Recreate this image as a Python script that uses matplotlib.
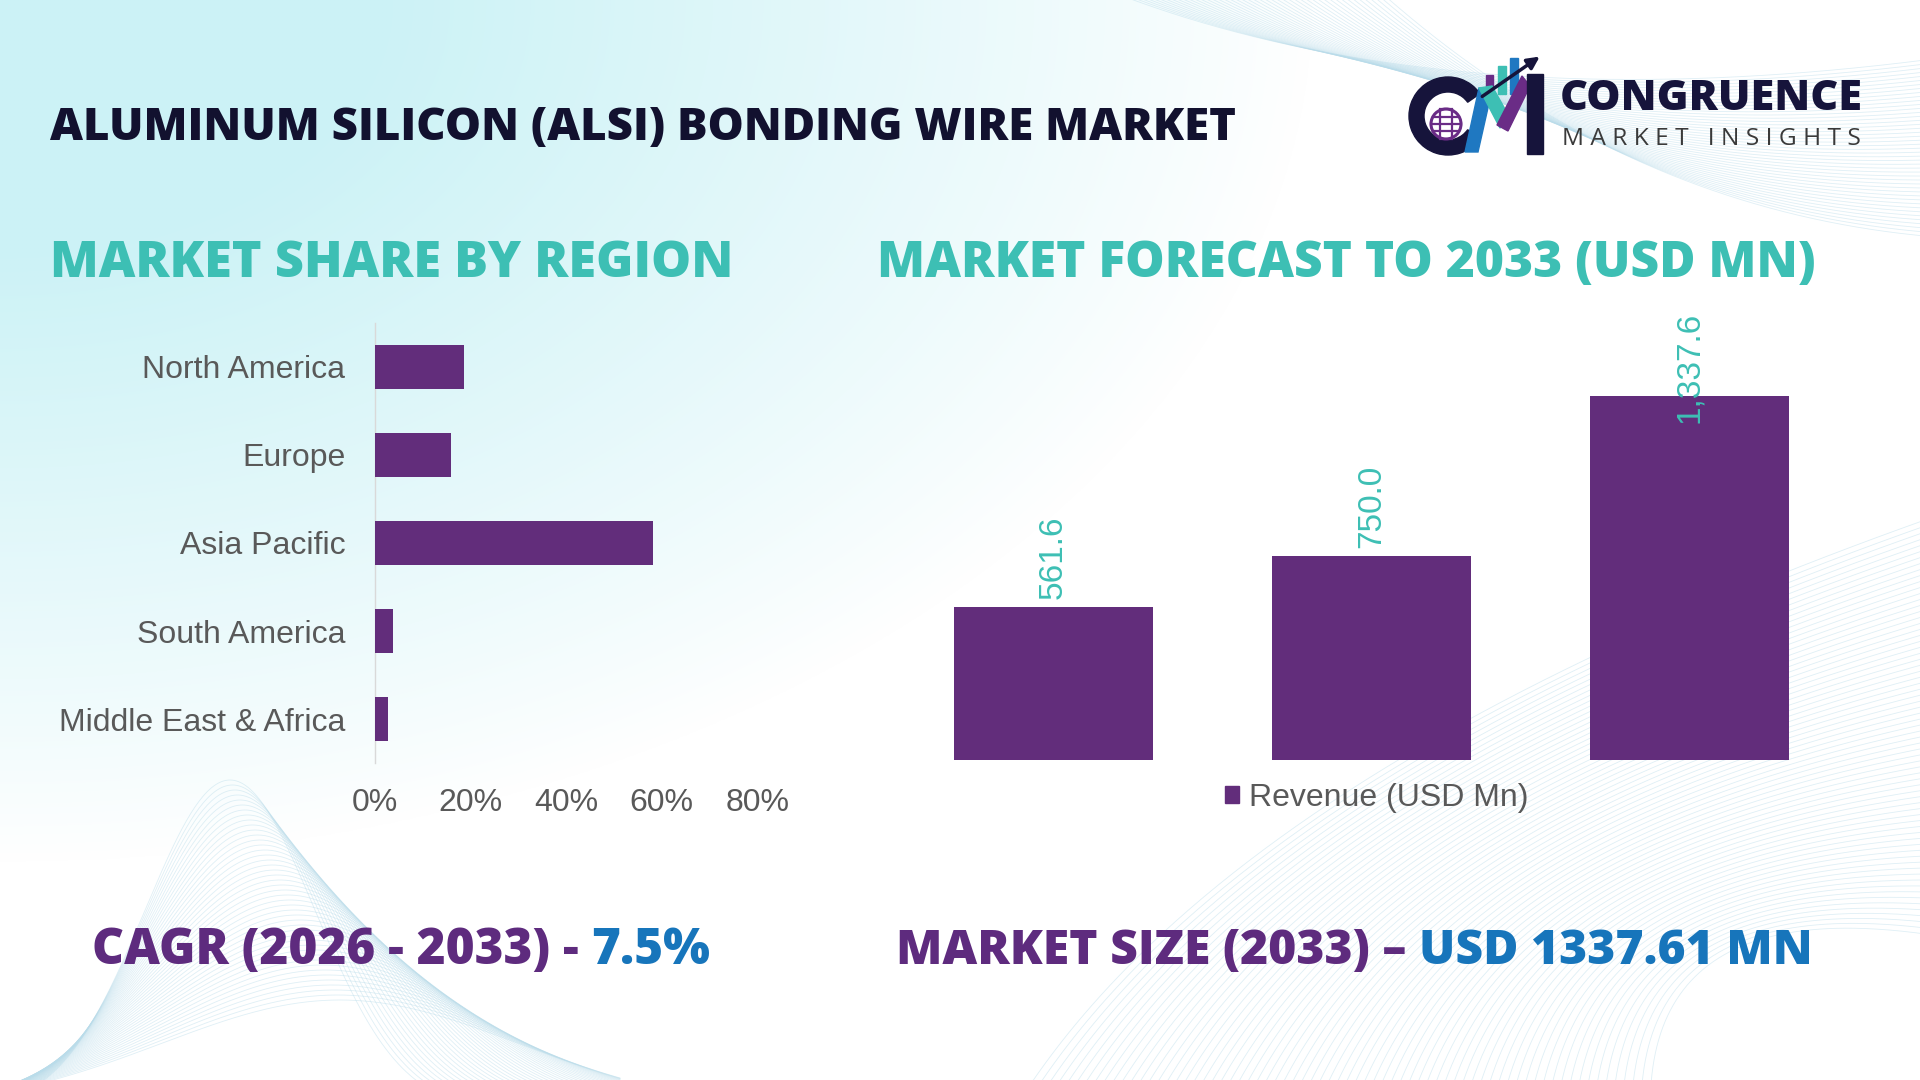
import matplotlib
matplotlib.use("Agg")
import matplotlib.pyplot as plt
import numpy as np
from matplotlib.patches import Circle, Polygon, Rectangle, Wedge, Patch

# ---------------- data ----------------
regions = ["North America", "Europe", "Asia Pacific", "South America", "Middle East & Africa"]
region_share = [18.7, 16.0, 58.1, 3.8, 2.8]
share_ticks = [0, 20, 40, 60, 80]

years = ["2021", "2025", "2033"]
revenue = [561.6, 750.0, 1337.6]
series_name = "Revenue (USD Mn)"

title = "ALUMINUM SILICON (ALSI) BONDING WIRE MARKET"
left_heading = "MARKET SHARE BY REGION"
right_heading = "MARKET FORECAST TO 2033 (USD MN)"
cagr_label, cagr_value = "CAGR (2026 - 2033) - ", "7.5%"
size_label, size_value = "MARKET SIZE (2033) \u2013 ", "USD 1337.61 MN"

# ---------------- style ----------------
PURPLE = "#622D7B"
TEAL = "#3DBFB4"
NAVY = "#12112F"
DPURPLE = "#5E2B7E"
BLUE = "#1775BB"
GREY = "#595959"
HEAD_FONT = ["Open Sans", "DejaVu Sans"]
BODY_FONT = ["Liberation Sans", "DejaVu Sans"]

W, H = 1920, 1080
fig = plt.figure(figsize=(19.2, 10.8), dpi=100)
fig.patch.set_facecolor("white")

# ---------------- background ----------------
bg = fig.add_axes([0, 0, 1, 1])
bg.set_xlim(0, W)
bg.set_ylim(H, 0)
bg.axis("off")

yy, xx = np.mgrid[0:H:4, 0:W:4]
r = np.sqrt((xx / 1250.0) ** 2 + (yy / 820.0) ** 2)
a = np.clip((1.05 - r) / 0.75, 0, 1) ** 0.9
img = np.zeros(xx.shape + (4,))
img[..., 0] = 0.80
img[..., 1] = 0.95
img[..., 2] = 0.965
img[..., 3] = a
bg.imshow(img, extent=[0, W, H, 0], interpolation="bilinear", zorder=0)

line_col = "#B9DCEA"
# bottom-left mound
xs = np.linspace(0, 620, 300)
for k in range(45):
    c = 230 + k * 2.5
    w = 120 + k * 3.0
    amp = 330 - k * 5
    ys = 1110 - amp * np.exp(-((xs - c) / w) ** 2)
    bg.plot(xs, ys, color=line_col, lw=0.6, alpha=0.45, zorder=1)
# bottom-right sweep
t = np.linspace(0, 1, 200)
for k in range(70):
    p0 = np.array([1030 + k * 9, 1085])
    p1 = np.array([1250 + k * 6, 760 + k * 2])
    p2 = np.array([1925, 520 + k * 6])
    pts = ((1 - t) ** 2)[:, None] * p0 + (2 * (1 - t) * t)[:, None] * p1 + (t ** 2)[:, None] * p2
    bg.plot(pts[:, 0], pts[:, 1], color=line_col, lw=0.6, alpha=0.45, zorder=1)
# top-right swirl
for k in range(45):
    p0 = np.array([1120 + k * 6, -5])
    p1 = np.array([1450 + k * 4, 120 + k * 2])
    p2 = np.array([1925, 60 + k * 4])
    pts = ((1 - t) ** 2)[:, None] * p0 + (2 * (1 - t) * t)[:, None] * p1 + (t ** 2)[:, None] * p2
    bg.plot(pts[:, 0], pts[:, 1], color=line_col, lw=0.6, alpha=0.45, zorder=1)

renderer = fig.canvas.get_renderer()


def fit_text(x0, x1, y, s, color, family=HEAD_FONT, weight=800, ha="left"):
    t = fig.text(x0 / W if ha == "left" else x1 / W, 1 - y / H, s, ha=ha, va="baseline",
                 fontsize=40, color=color, family=family, fontweight=weight, zorder=5)
    bb = t.get_window_extent(renderer)
    t.set_fontsize(40 * (x1 - x0) / bb.width)
    return t


def two_color(x0, x1, y, s1, s2, c1, c2):
    t1 = fig.text(x0 / W, 1 - y / H, s1, ha="left", va="baseline", fontsize=40,
                  color=c1, family=HEAD_FONT, fontweight=800)
    t2 = fig.text(x0 / W, 1 - y / H, s2, ha="left", va="baseline", fontsize=40,
                  color=c2, family=HEAD_FONT, fontweight=800)
    w = t1.get_window_extent(renderer).width + t2.get_window_extent(renderer).width
    fs = 40 * (x1 - x0) / w
    t1.set_fontsize(fs)
    t2.set_fontsize(fs)
    w1 = t1.get_window_extent(renderer).width
    t2.set_x((x0 + w1) / W)


fit_text(50, 1234, 140, title, NAVY)
fit_text(50, 732, 277, left_heading, TEAL)
fit_text(877, 1815, 277, right_heading, TEAL)
two_color(92, 710, 964, cagr_label, cagr_value, DPURPLE, BLUE)
two_color(896, 1810, 964, size_label, size_value, DPURPLE, BLUE)

# ---------------- logo ----------------
LNAVY = "#16143B"
bg.add_patch(Wedge((1448, 116), 39, 35, 325, width=15, color=LNAVY, zorder=6))
bg.add_patch(Circle((1446, 124), 15, fill=False, ec="#6A2C86", lw=2.2, zorder=7))
for dy in (-7, 0, 7):
    hw = np.sqrt(max(15 ** 2 - dy ** 2, 0))
    bg.plot([1446 - hw, 1446 + hw], [124 + dy, 124 + dy], color="#6A2C86", lw=1.6, zorder=7)
bg.add_patch(Polygon([[1440, 109], [1452, 109], [1452, 139], [1440, 139]], closed=True,
                     fill=False, ec="#6A2C86", lw=1.6, zorder=7))
bg.add_patch(Polygon([[1465, 152], [1478, 152], [1492, 90], [1479, 88]], closed=True,
                     color="#1F78C1", zorder=7))
bg.add_patch(Polygon([[1479, 88], [1492, 86], [1510, 118], [1500, 128]], closed=True,
                     color="#3DBFB4", zorder=7))
bg.add_patch(Polygon([[1497, 125], [1508, 131], [1530, 86], [1522, 76]], closed=True,
                     color="#6A2C86", zorder=7))
bg.add_patch(Polygon([[1527, 74], [1543, 74], [1543, 154], [1527, 154]], closed=True,
                     color=LNAVY, zorder=7))
bg.add_patch(Rectangle((1486, 75), 7, 20, color="#6A2C86", zorder=6))
bg.add_patch(Rectangle((1498, 66), 8, 28, color="#3DBFB4", zorder=6))
bg.add_patch(Rectangle((1510, 58), 8, 36, color="#1F78C1", zorder=6))
bg.annotate("", xy=(1542, 55), xytext=(1480, 98),
            arrowprops=dict(arrowstyle="-|>", color=LNAVY, lw=2.5, mutation_scale=18), zorder=8)
fit_text(1560, 1862, 110, "CONGRUENCE", LNAVY, weight=900)
fit_text(1562, 1860, 145, "M A R K E T   I N S I G H T S", "#3A3A3A",
         family=["Open Sans", "DejaVu Sans"], weight=400)

# ---------------- left chart: market share ----------------
ax1 = fig.add_axes([374.5 / W, 1 - 763.3 / H, (757.6 - 374.5) / W, (763.3 - 322.7) / H])
ax1.patch.set_alpha(0)
ypos = np.arange(len(regions))
ax1.barh(ypos, region_share, height=0.5, color=PURPLE, zorder=3)
ax1.set_ylim(len(regions) - 0.5, -0.5)
ax1.set_xlim(share_ticks[0], share_ticks[-1])
ax1.set_yticks(ypos)
ax1.set_yticklabels(regions, family=BODY_FONT, fontsize=23, color=GREY)
ax1.set_xticks(share_ticks)
ax1.set_xticklabels([f"{v}%" for v in share_ticks], family=BODY_FONT, fontsize=23, color=GREY)
ax1.tick_params(axis="y", length=0, pad=21)
ax1.tick_params(axis="x", length=0, pad=18)
for s in ("top", "right", "bottom"):
    ax1.spines[s].set_visible(False)
ax1.spines["left"].set_color("#D9D9D9")
ax1.spines["left"].set_linewidth(1.0)

# ---------------- right chart: forecast ----------------
base_y, top_y = 760.4, 312.0
ax2 = fig.add_axes([894.5 / W, 1 - base_y / H, 954 / W, (base_y - top_y) / H])
ax2.patch.set_alpha(0)
xpos = np.arange(len(years))
ax2.bar(xpos, revenue, width=0.625, color=PURPLE, zorder=3, label=series_name)
ax2.set_xlim(-0.5, len(years) - 0.5)
ax2.set_ylim(0, 1644)
ax2.axis("off")

inv = ax2.transData.inverted()
for x, v in zip(xpos, revenue):
    t = ax2.text(x, v, f"{v:,.1f}", rotation=90, ha="center", va="bottom", color=TEAL,
                 family=BODY_FONT, fontsize=24, zorder=5)
    px = ax2.transData.transform((x, v))
    t.set_position(inv.transform((px[0], px[1] + 8)))
    bb = t.get_window_extent(renderer)
    top = ax2.transAxes.transform((0, 1))[1]
    if bb.y1 > top:
        t.set_va("top")
        t.set_position((x, ax2.get_ylim()[1]))

fig.legend(handles=[Patch(color=PURPLE, label=series_name)], loc="center",
           bbox_to_anchor=(1376.5 / W, 1 - 798 / H), frameon=False,
           prop={"family": BODY_FONT, "size": 23}, labelcolor=GREY,
           handlelength=0.45, handleheight=0.45, handletextpad=0.3)

fig.savefig("out.png", dpi=100)
